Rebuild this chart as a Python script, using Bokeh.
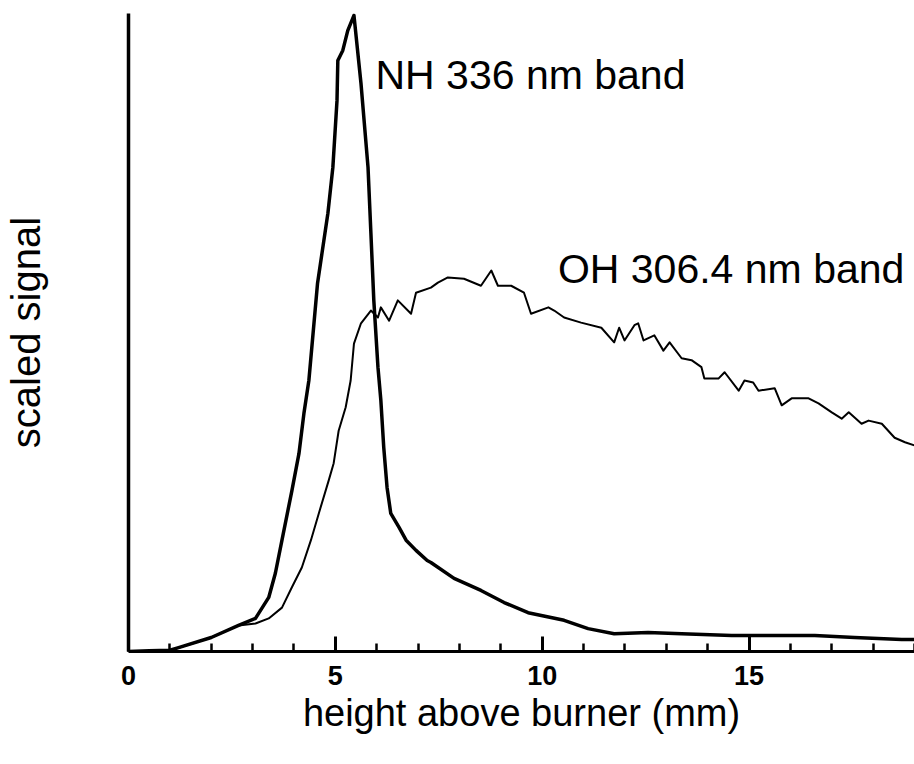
from bokeh.plotting import figure
from bokeh.models import FixedTicker, Label, Range1d
from bokeh.embed import file_html
from bokeh.resources import INLINE

# ---- data ----
nh_x = [0, 0.5, 1.0, 1.21, 2.0, 2.66, 3.07, 3.39, 3.55, 3.71, 3.95, 4.12, 4.24, 4.36,
        4.57, 4.82, 4.94, 5.04, 5.06, 5.18, 5.30, 5.45, 5.62, 5.79, 5.86, 5.93, 6.03,
        6.10, 6.17, 6.25, 6.34, 6.54, 6.71, 6.95, 7.22, 7.31, 7.87, 8.52, 9.08, 9.66,
        10.53, 11.11, 11.74, 12.56, 13.37, 14.58, 15.79, 16.59, 17.55, 18.69, 19.0]
nh_y = [0, 0.1, 0.2, 0.6, 2.2, 4.1, 5.2, 8.5, 12.3, 17.5, 25.3, 31.1, 37.4, 42.6,
        57.9, 68.9, 76.1, 86.6, 92.9, 94.5, 97.6, 100.0, 89.3, 76.1, 65.7, 55.2, 44.7,
        39.5, 32.1, 25.8, 21.7, 19.5, 17.5, 15.9, 14.3, 14.0, 11.5, 9.6, 7.7, 6.1,
        4.9, 3.6, 2.8, 3.0, 2.8, 2.5, 2.5, 2.5, 2.2, 1.9, 1.9]

oh_x = [0, 0.6, 1.0, 1.21, 2.0, 2.66, 3.07, 3.39, 3.71, 3.95, 4.19, 4.41, 4.60, 4.84,
        4.96, 5.08, 5.25, 5.37, 5.45, 5.62, 5.86, 6.03, 6.10, 6.30, 6.51, 6.83, 6.95,
        7.31, 7.48, 7.72, 8.11, 8.52, 8.77, 8.93, 9.25, 9.56, 9.73, 10.15, 10.29, 10.53,
        10.94, 11.43, 11.74, 11.86, 11.99, 12.23, 12.32, 12.45, 12.71, 12.93, 13.08,
        13.37, 13.61, 13.85, 13.92, 14.26, 14.41, 14.75, 14.89, 15.1, 15.23, 15.62,
        15.79, 16.03, 16.44, 16.68, 17.0, 17.24, 17.41, 17.72, 17.89, 18.21, 18.52,
        18.77, 19.0]
oh_y = [0, 0.1, 0.2, 0.6, 2.2, 4.1, 4.4, 5.2, 6.9, 10.1, 13.2, 17.5, 21.7, 26.9,
        29.6, 34.7, 38.4, 42.6, 48.4, 51.6, 53.6, 52.5, 54.1, 52.0, 55.2, 53.1, 56.4,
        57.2, 58.0, 58.8, 58.6, 57.5, 59.9, 57.5, 57.5, 56.4, 53.1, 54.1, 53.6, 52.5,
        51.7, 50.9, 48.6, 50.9, 48.9, 51.3, 51.6, 48.9, 49.7, 47.3, 48.6,
        46.1, 45.8, 44.7, 42.9, 42.9, 43.9, 41.0, 42.6, 42.3, 41.0, 41.4,
        38.7, 39.8, 39.8, 39.0, 37.6, 36.6, 37.6, 35.8, 36.3, 35.8, 33.6,
        32.9, 32.4]

major_ticks = [0, 5, 10, 15]
minor_ticks = list(range(0, 20))

labels_text = ["NH 336 nm band", "OH 306.4 nm band"]
labels_x = [5.97, 10.38]
labels_y = [90.6, 60.2]

x_label = "height above burner (mm)"
y_label = "scaled signal"

FONT = "Liberation Sans"

p = figure(width=914, height=751, output_backend="svg", toolbar_location=None,
           x_range=Range1d(0, 19.0), y_range=Range1d(0, 100.3),
           min_border_left=128, min_border_right=0, min_border_top=13,
           min_border_bottom=100)
p.outline_line_color = None
p.grid.visible = False
p.background_fill_color = "white"
p.border_fill_color = "white"

p.line(oh_x, oh_y, line_color="black", line_width=2.0, line_join="round")
p.line(nh_x, nh_y, line_color="black", line_width=3.5, line_join="round")

for t, x, y in zip(labels_text, labels_x, labels_y):
    p.add_layout(Label(x=x, y=y, text=t, text_font=FONT, text_font_size="41px",
                       text_color="black", text_baseline="alphabetic", text_align="left"))

xa = p.xaxis[0]
xa.ticker = FixedTicker(ticks=major_ticks, minor_ticks=minor_ticks)
xa.axis_line_width = 3
xa.axis_line_color = "black"
xa.major_tick_in = 15
xa.major_tick_out = 0
xa.minor_tick_in = 8
xa.minor_tick_out = 0
xa.major_tick_line_width = 3
xa.minor_tick_line_width = 2.5
xa.major_tick_line_color = "black"
xa.minor_tick_line_color = "black"
xa.major_label_text_font = FONT
xa.major_label_text_font_style = "bold"
xa.major_label_text_font_size = "27px"
xa.major_label_text_color = "black"
xa.major_label_standoff = 14
xa.axis_label = x_label
xa.axis_label_text_font = FONT
xa.axis_label_text_font_style = "normal"
xa.axis_label_text_font_size = "38px"
xa.axis_label_text_color = "black"
xa.axis_label_standoff = 4

ya = p.yaxis[0]
ya.ticker = FixedTicker(ticks=[])
ya.axis_line_width = 3.5
ya.axis_line_color = "black"
ya.major_tick_line_color = None
ya.minor_tick_line_color = None
ya.major_label_text_color = None
ya.axis_label = y_label
ya.axis_label_text_font = FONT
ya.axis_label_text_font_style = "normal"
ya.axis_label_text_font_size = "40px"
ya.axis_label_text_color = "black"
ya.axis_label_standoff = 81

open("out.html", "w").write(file_html(p, INLINE))
